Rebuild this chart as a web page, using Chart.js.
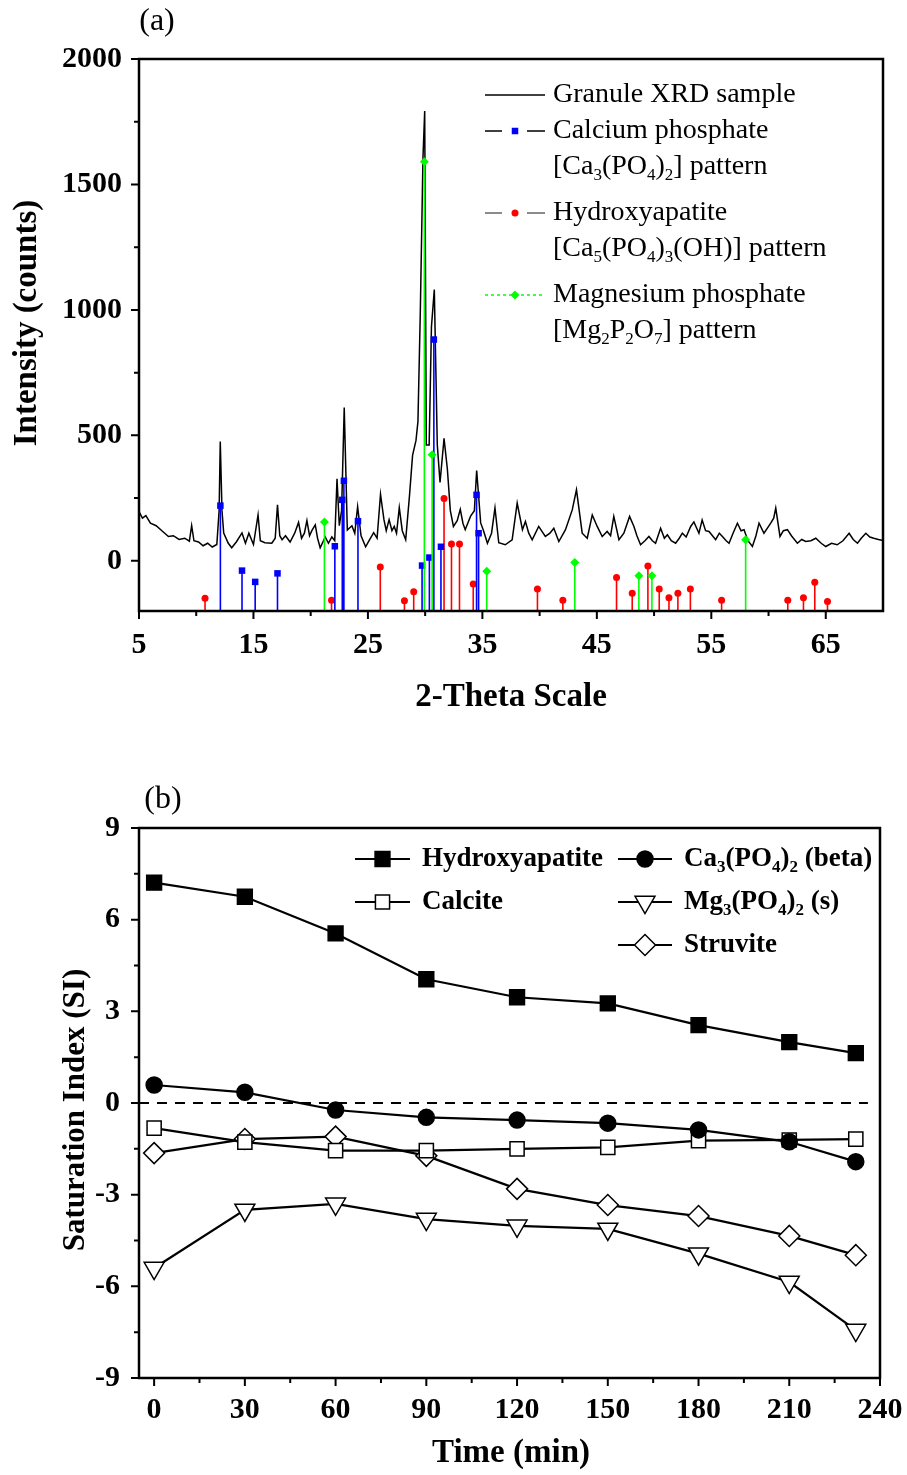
<!DOCTYPE html>
<html>
<head>
<meta charset="utf-8">
<script src="https://cdn.jsdelivr.net/npm/chart.js@4.4.0/dist/chart.umd.min.js"></script>
<style>
  body { margin: 0; background: #fff; }
  canvas { position: absolute; left: 0; }
  #xrd { top: 0; }
  #si { top: 740px; }
</style>
</head>
<body>
<canvas id="xrd" width="907" height="740"></canvas>
<canvas id="si" width="907" height="735"></canvas>
<script>
// ---- panel (a): XRD trace ----
const xrdTheta = [
  5.0, 5.3, 5.6, 6.0, 6.5, 7.0, 7.57, 8.0, 8.5, 9.0,
  9.4, 9.6, 9.8, 10.2, 10.6, 11.0, 11.4, 11.8, 12.0, 12.1,
  12.25, 12.4, 12.8, 13.1, 13.5, 14.0, 14.3, 14.6, 15.0, 15.4,
  15.6, 16.0, 16.6, 16.9, 17.1, 17.3, 17.5, 17.8, 18.2, 18.6,
  18.94, 19.2, 19.45, 19.67, 19.9, 20.1, 20.4, 20.6, 20.83, 21.27,
  21.55, 21.85, 22.1, 22.3, 22.5, 22.7, 22.93, 23.2, 23.6, 23.85,
  24.1, 24.4, 24.8, 25.1, 25.5, 25.8, 26.1, 26.4, 26.6, 26.85,
  27.1, 27.3, 27.5, 27.74, 28.0, 28.3, 28.63, 28.9, 29.2, 29.37,
  29.58, 29.81, 29.96, 30.1, 30.35, 30.55, 30.8, 31.06, 31.3, 31.65,
  31.94, 32.2, 32.47, 32.8, 33.07, 33.3, 33.5, 33.97, 34.3, 34.5,
  34.85, 35.1, 35.44, 35.8, 36.1, 36.43, 37.0, 37.6, 38.04, 38.5,
  38.76, 39.05, 39.35, 39.92, 40.5, 40.9, 41.24, 41.68, 42.26, 42.85,
  43.22, 43.72, 44.16, 44.6, 45.03, 45.47, 45.9, 46.2, 46.48, 46.93,
  47.36, 47.86, 48.24, 48.5, 48.82, 49.2, 49.55, 49.85, 50.13, 50.57,
  50.9, 51.16, 51.5, 51.88, 52.2, 52.47, 52.8, 53.2, 53.48, 53.92,
  54.2, 54.5, 54.8, 55.1, 55.38, 55.7, 55.97, 56.3, 56.55, 56.9,
  57.28, 57.6, 57.86, 58.2, 58.59, 58.9, 59.17, 59.6, 59.9, 60.19,
  60.45, 60.63, 61.0, 61.3, 61.65, 62.0, 62.52, 62.9, 63.25, 63.7,
  64.13, 64.6, 65.0, 65.5, 66.0, 66.5, 67.04, 67.4, 67.77, 68.1,
  68.5, 68.85, 69.2, 69.6, 70.0
];
const xrdCounts = [
  196, 170, 180, 150, 140, 120, 97, 100, 85, 90,
  78, 140, 80, 75, 60, 70, 55, 65, 200, 475,
  200, 111, 70, 52, 75, 111, 70, 110, 65, 183,
  80, 72, 70, 90, 223, 100, 84, 100, 75, 110,
  153, 90, 110, 160, 100, 120, 143, 90, 52, 95,
  70, 95, 80, 327, 140, 200, 611, 123, 140, 110,
  216, 100, 56, 80, 112, 90, 265, 164, 120, 164,
  120, 137, 110, 212, 120, 84, 259, 420, 480, 555,
  1000, 1607, 1793, 462, 462, 933, 1081, 462, 312, 488,
  366, 200, 137, 160, 205, 150, 124, 178, 200, 360,
  151, 120, 70, 110, 211, 72, 64, 84, 230, 124,
  157, 110, 84, 137, 97, 110, 130, 77, 124, 203,
  283, 110, 90, 183, 137, 97, 117, 100, 177, 84,
  110, 177, 137, 100, 64, 80, 97, 80, 70, 130,
  90, 104, 80, 70, 90, 110, 95, 137, 155, 110,
  163, 120, 117, 100, 84, 110, 97, 80, 70, 110,
  150, 120, 124, 80, 57, 100, 150, 110, 130, 150,
  170, 210, 97, 120, 124, 100, 70, 85, 77, 80,
  90, 70, 57, 70, 64, 80, 110, 85, 70, 90,
  110, 95, 90, 85, 81
];

// reference patterns (stick positions and heights)
const caTheta = [12.11, 14.0, 15.15, 17.1, 22.11, 22.76, 22.9, 24.13, 29.73, 30.37, 30.76, 31.38, 34.49, 34.67];
const caCounts = [220, -39, -84, -50, 58, 243, 319, 158, -19, 13, 882, 56, 263, 110];
const hapTheta = [10.77, 21.82, 26.08, 28.19, 29.0, 31.65, 32.3, 33.0, 34.2, 39.81, 42.03, 46.72,
  48.09, 49.46, 50.45, 51.3, 52.08, 53.17, 55.9, 61.68, 63.05, 64.04, 65.15];
const hapCounts = [-149, -157, -25, -159, -123, 248, 67, 67, -92, -112, -157, -66,
  -129, -21, -112, -147, -129, -112, -157, -157, -147, -85, -162];
const mgTheta = [21.2, 29.93, 30.61, 35.38, 43.07, 48.67, 49.81, 58.0];
const mgCounts = [155, 1590, 423, -42, -7, -60, -60, 84];
const stickBase = -200;

const xrdXTicks = [5, 15, 25, 35, 45, 55, 65];
const xrdXMinor = [10, 20, 30, 40, 50, 60];
const xrdYTicks = [0, 500, 1000, 1500, 2000];
const xrdYMinor = [250, 750, 1250, 1750];

// ---- panel (b): saturation indices ----
const timeMin = [0, 30, 60, 90, 120, 150, 180, 210, 232];
const siHap = [7.21, 6.75, 5.55, 4.05, 3.46, 3.26, 2.55, 1.99, 1.63];
const siCaBeta = [0.59, 0.35, -0.23, -0.47, -0.56, -0.66, -0.88, -1.27, -1.92];
const siCalcite = [-0.82, -1.28, -1.56, -1.56, -1.5, -1.45, -1.23, -1.21, -1.18];
const siMgPO4 = [-5.4, -3.5, -3.3, -3.8, -4.02, -4.12, -4.93, -5.86, -7.43];
const siStruvite = [-1.64, -1.18, -1.1, -1.73, -2.81, -3.34, -3.7, -4.35, -4.98];
const zeroLineX = [-5, 236];

const timeTicks = [0, 30, 60, 90, 120, 150, 180, 210, 240];
const timeMinor = [15, 45, 75, 105, 135, 165, 195, 225];
const siTicks = [-9, -6, -3, 0, 3, 6, 9];
const siMinor = [-7.5, -4.5, -1.5, 1.5, 4.5, 7.5];

const serif = '"Liberation Serif", "Times New Roman", serif';
const tickFont = { family: serif, size: 30, weight: 'bold' };

// text with subscripts: plain strings, subscripts as [text]
function drawRich(ctx, parts, x, y, size, weight) {
  let cx = x;
  parts.forEach(p => {
    const sub = Array.isArray(p);
    const txt = sub ? p[0] : p;
    ctx.font = `${weight} ${sub ? Math.round(size * 0.62) : size}px ${serif}`;
    ctx.fillText(txt, cx, sub ? y + size * 0.32 : y);
    cx += ctx.measureText(txt).width;
  });
}

function marker(ctx, style, x, y) {
  ctx.save();
  ctx.fillStyle = style.fill;
  ctx.strokeStyle = style.stroke;
  ctx.lineWidth = style.bw;
  Chart.helpers.drawPoint(ctx, { pointStyle: style.shape, radius: style.r, rotation: style.rot || 0, borderWidth: style.bw }, x, y);
  ctx.restore();
}

// box + inward/outward ticks drawn from the scales
const framePlugin = {
  id: 'frame',
  afterDatasetsDraw(chart, args, opts) {
    const { ctx, chartArea: a, scales: { x, y } } = chart;
    ctx.save();
    ctx.strokeStyle = '#000';
    ctx.lineWidth = 2;
    ctx.beginPath();
    const tx = (vals, len) => vals.forEach(v => {
      const p = x.getPixelForValue(v);
      ctx.moveTo(p, a.bottom); ctx.lineTo(p, a.bottom + len);
    });
    const ty = (vals, len) => vals.forEach(v => {
      const p = y.getPixelForValue(v);
      ctx.moveTo(a.left, p); ctx.lineTo(a.left - len, p);
    });
    tx(opts.xMajor, 8); tx(opts.xMinor, 5);
    ty(opts.yMajor, 8); ty(opts.yMinor, 5);
    ctx.stroke();
    ctx.lineWidth = 2.5;
    ctx.strokeRect(a.left, a.top, a.right - a.left, a.bottom - a.top);
    ctx.restore();
  }
};
Chart.register(framePlugin);

function axis(min, max, ticks, pad, isX, size) {
  return {
    type: 'linear', min: min, max: max,
    afterBuildTicks: s => { s.ticks = ticks.map(v => ({ value: v })); },
    afterFit: s => {
      if (isX) s.height = size; else s.width = size;
      s.paddingLeft = s.paddingRight = s.paddingTop = s.paddingBottom = 0;
    },
    grid: { display: false, drawTicks: false },
    border: { display: false },
    ticks: { font: tickFont, color: '#000', padding: pad, maxRotation: 0, autoSkip: false, callback: v => String(v) }
  };
}

function stickData(thetas, counts) {
  const pts = [];
  thetas.forEach((t, i) => {
    pts.push({ x: t, y: stickBase }, { x: t, y: counts[i] }, { x: t, y: null });
  });
  return pts;
}

function stickSet(thetas, counts, color, shape, r) {
  return {
    data: stickData(thetas, counts),
    showLine: true, spanGaps: false,
    borderColor: color, borderWidth: 1.6,
    pointStyle: shape,
    pointRadius: c => (c.index % 3 === 1 ? r : 0),
    pointBackgroundColor: color, pointBorderColor: color, pointBorderWidth: 0
  };
}

const mkBlue = { shape: 'rect', r: 4.6, fill: '#0000ff', stroke: '#0000ff', bw: 0 };
const mkRed = { shape: 'circle', r: 3.5, fill: '#ff0000', stroke: '#ff0000', bw: 0 };
const mkGreen = { shape: 'rectRot', r: 4.5, fill: '#00ff00', stroke: '#00ff00', bw: 0 };

const xrdText = {
  id: 'xrdText',
  afterDraw(chart) {
    const ctx = chart.ctx;
    ctx.save();
    ctx.fillStyle = '#000';
    ctx.textBaseline = 'middle';
    ctx.textAlign = 'center';
    ctx.font = `32px ${serif}`;
    ctx.fillText('(a)', 157, 22);
    ctx.font = `bold 33px ${serif}`;
    ctx.fillText('2-Theta Scale', 511, 697);
    ctx.save();
    ctx.translate(27, 323);
    ctx.rotate(-Math.PI / 2);
    ctx.fillText('Intensity (counts)', 0, 0);
    ctx.restore();

    // legend samples
    ctx.lineWidth = 1.5;
    ctx.strokeStyle = '#000';
    ctx.beginPath(); ctx.moveTo(485, 95); ctx.lineTo(545, 95); ctx.stroke();
    ctx.beginPath(); ctx.moveTo(485, 131); ctx.lineTo(502, 131); ctx.moveTo(527, 131); ctx.lineTo(545, 131); ctx.stroke();
    marker(ctx, mkBlue, 515, 131);
    ctx.strokeStyle = '#666';
    ctx.beginPath(); ctx.moveTo(485, 213); ctx.lineTo(502, 213); ctx.moveTo(527, 213); ctx.lineTo(545, 213); ctx.stroke();
    marker(ctx, mkRed, 515, 213);
    ctx.strokeStyle = '#00ff00';
    ctx.setLineDash([3, 3]);
    ctx.beginPath(); ctx.moveTo(485, 295); ctx.lineTo(545, 295); ctx.stroke();
    ctx.setLineDash([]);
    marker(ctx, mkGreen, 515, 295);

    ctx.textAlign = 'left';
    const fs = 28;
    drawRich(ctx, ['Granule XRD sample'], 553, 95, fs, 'normal');
    drawRich(ctx, ['Calcium phosphate'], 553, 131, fs, 'normal');
    drawRich(ctx, ['[Ca', ['3'], '(PO', ['4'], ')', ['2'], '] pattern'], 553, 167, fs, 'normal');
    drawRich(ctx, ['Hydroxyapatite'], 553, 213, fs, 'normal');
    drawRich(ctx, ['[Ca', ['5'], '(PO', ['4'], ')', ['3'], '(OH)] pattern'], 553, 249, fs, 'normal');
    drawRich(ctx, ['Magnesium phosphate'], 553, 295, fs, 'normal');
    drawRich(ctx, ['[Mg', ['2'], 'P', ['2'], 'O', ['7'], '] pattern'], 553, 331, fs, 'normal');
    ctx.restore();
  }
};

new Chart(document.getElementById('xrd'), {
  type: 'scatter',
  data: {
    datasets: [
      stickSet(mgTheta, mgCounts, '#00ff00', 'rectRot', 4.5),
      stickSet(caTheta, caCounts, '#0000ff', 'rect', 4.6),
      stickSet(hapTheta, hapCounts, '#ff0000', 'circle', 3.5),
      {
        data: xrdTheta.map((t, i) => ({ x: t, y: xrdCounts[i] })),
        showLine: true, borderColor: '#000', borderWidth: 1.5, pointRadius: 0
      }
    ]
  },
  options: {
    responsive: false, animation: false, events: [],
    layout: { padding: { top: 59, right: 24, bottom: 0, left: 0 } },
    plugins: {
      legend: { display: false }, tooltip: { enabled: false },
      frame: { xMajor: xrdXTicks, xMinor: xrdXMinor, yMajor: xrdYTicks, yMinor: xrdYMinor }
    },
    scales: {
      x: axis(5, 70, xrdXTicks, 16, true, 740 - 611),
      y: axis(-200, 2000, xrdYTicks, 17, false, 139)
    }
  },
  plugins: [xrdText]
});

// ---- panel (b) ----
const mkHap = { shape: 'rect', r: 10.5, fill: '#000', stroke: '#000', bw: 1.5 };
const mkCaB = { shape: 'circle', r: 8, fill: '#000', stroke: '#000', bw: 1.5 };
const mkCal = { shape: 'rect', r: 10, fill: '#fff', stroke: '#000', bw: 1.5 };
const mkMg = { shape: 'triangle', r: 11.5, rot: 180, fill: '#fff', stroke: '#000', bw: 1.5 };
const mkStr = { shape: 'rectRot', r: 10.5, fill: '#fff', stroke: '#000', bw: 1.5 };

function siSet(values, mk) {
  return {
    data: timeMin.map((t, i) => ({ x: t, y: values[i] })),
    showLine: true, borderColor: '#000', borderWidth: 2.2,
    pointStyle: mk.shape, pointRadius: mk.r, pointRotation: mk.rot || 0,
    pointBackgroundColor: mk.fill, pointBorderColor: mk.stroke, pointBorderWidth: mk.bw
  };
}

const siText = {
  id: 'siText',
  afterDraw(chart) {
    const ctx = chart.ctx;
    ctx.save();
    ctx.fillStyle = '#000';
    ctx.textBaseline = 'middle';
    ctx.textAlign = 'center';
    ctx.font = `32px ${serif}`;
    ctx.fillText('(b)', 163, 60);
    ctx.font = `bold 33px ${serif}`;
    ctx.fillText('Time (min)', 511, 713);
    ctx.save();
    ctx.translate(76, 370);
    ctx.rotate(-Math.PI / 2);
    ctx.font = `bold 31px ${serif}`;
    ctx.fillText('Saturation Index (SI)', 0, 0);
    ctx.restore();

    const rows = [
      [355, 410, 119, mkHap, ['Hydroxyapatite']],
      [355, 410, 162, mkCal, ['Calcite']],
      [618, 672, 119, mkCaB, ['Ca', ['3'], '(PO', ['4'], ')', ['2'], ' (beta)']],
      [618, 672, 162, mkMg, ['Mg', ['3'], '(PO', ['4'], ')', ['2'], ' (s)']],
      [618, 672, 205, mkStr, ['Struvite']]
    ];
    ctx.textAlign = 'left';
    rows.forEach(([x0, x1, y, mk, parts]) => {
      ctx.strokeStyle = '#000';
      ctx.lineWidth = 2.2;
      ctx.beginPath(); ctx.moveTo(x0, y); ctx.lineTo(x1, y); ctx.stroke();
      marker(ctx, mk, (x0 + x1) / 2, y);
      ctx.fillStyle = '#000';
      drawRich(ctx, parts, x1 + 12, y, 27, 'bold');
    });
    ctx.restore();
  }
};

new Chart(document.getElementById('si'), {
  type: 'scatter',
  data: {
    datasets: [
      siSet(siHap, mkHap),
      siSet(siCaBeta, mkCaB),
      siSet(siCalcite, mkCal),
      siSet(siStruvite, mkStr),
      siSet(siMgPO4, mkMg),
      {
        data: zeroLineX.map(t => ({ x: t, y: 0 })),
        showLine: true, borderColor: '#000', borderWidth: 2.2, borderDash: [10, 8], pointRadius: 0
      }
    ]
  },
  options: {
    responsive: false, animation: false, events: [],
    layout: { padding: { top: 88, right: 27, bottom: 0, left: 0 } },
    plugins: {
      legend: { display: false }, tooltip: { enabled: false },
      frame: { xMajor: timeTicks, xMinor: timeMinor, yMajor: siTicks, yMinor: siMinor }
    },
    scales: {
      x: axis(-5, 240, timeTicks, 14, true, 735 - 638),
      y: axis(-9, 9, siTicks, 19, false, 139)
    }
  },
  plugins: [siText]
});
</script>
</body>
</html>
